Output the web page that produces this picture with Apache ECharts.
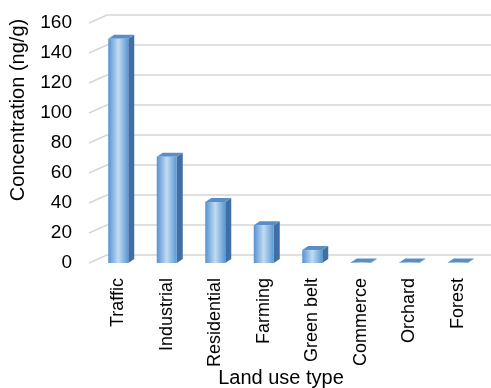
<!DOCTYPE html>
<html>
<head>
<meta charset="utf-8">
<script src="https://cdn.jsdelivr.net/npm/echarts@6/dist/echarts.min.js"></script>
<style>
    html, body { margin: 0; padding: 0; background: #fff; }
    #chart { width: 491px; height: 388px; }
</style>
</head>
<body>
<div id="chart"></div>
<script>
var landUse = ['Traffic', 'Industrial', 'Residential', 'Farming', 'Green belt', 'Commerce', 'Orchard', 'Forest'];
var concentration = [149.5, 70.8, 40.6, 25.2, 8.6, 0.4, 0.3, 0.3];
var yTicks = [0, 20, 40, 60, 80, 100, 120, 140, 160];

var chart = echarts.init(document.getElementById('chart'));

// 斜向的底面/侧墙线
var renderWallEdge = function (params, api) {
    var p = api.coord([0, api.value(0)]);
    return {
        type: 'line',
        shape: { x1: p[0] - 18, y1: p[1] + 8, x2: p[0], y2: p[1] },
        style: { stroke: '#d6d6d6', lineWidth: 1.5 }
    };
};

// 柱子的侧面和顶面
var renderBarBox = function (params, api) {
    var top = api.coord([api.value(0), api.value(1)]);
    var base = api.coord([api.value(0), 0]);
    var hw = 10, dx = 6, dy = -4;
    var x = top[0];
    return {
        type: 'group',
        children: [{
            type: 'polygon',
            shape: { points: [[x + hw, top[1]], [x + hw + dx, top[1] + dy], [x + hw + dx, base[1] + dy], [x + hw, base[1]]] },
            style: { fill: '#3f6fa3' }
        }, {
            type: 'polygon',
            shape: { points: [[x - hw, top[1]], [x + hw, top[1]], [x + hw + dx, top[1] + dy], [x - hw + dx, top[1] + dy]] },
            style: { fill: '#5a8fc6' }
        }]
    };
};

var option = {
    animation: false,
    textStyle: { fontFamily: 'Liberation Sans, Arial, sans-serif' },
    grid: [
        { left: 94, right: 9, top: 23, bottom: 125, outerBoundsMode: 'none', containLabel: false },
        { left: 107, right: 0, top: 15, bottom: 133, outerBoundsMode: 'none', containLabel: false }
    ],
    xAxis: [{
        type: 'category',
        gridIndex: 0,
        data: landUse,
        axisLine: { show: false },
        axisTick: { show: false },
        axisLabel: { rotate: 90, margin: 15, fontSize: 18, color: '#000', interval: 0, padding: [0, 0, 10, 0] },
        name: 'Land use type',
        nameLocation: 'middle',
        nameGap: 105,
        nameMoveOverlap: false,
        nameTextStyle: { fontSize: 20, color: '#000', padding: [0, 14, 0, 0] }
    }, {
        type: 'value',
        gridIndex: 1,
        min: 0, max: 1,
        show: false
    }],
    yAxis: [{
        type: 'value',
        gridIndex: 0,
        min: 0, max: 160, interval: 20,
        axisLine: { show: false },
        axisTick: { show: false },
        splitLine: { show: false },
        axisLabel: { fontSize: 19, color: '#000', margin: 22, padding: [8, 0, 0, 0] },
        name: 'Concentration (ng/g)',
        nameLocation: 'middle',
        nameGap: 66,
        nameMoveOverlap: false,
        nameTextStyle: { fontSize: 20, color: '#000', padding: [0, 0, 0, 66] }
    }, {
        type: 'value',
        gridIndex: 1,
        min: 0, max: 160, interval: 20,
        axisLine: { show: false },
        axisTick: { show: false },
        axisLabel: { show: false },
        splitLine: { lineStyle: { color: '#d6d6d6', width: 1.5 } }
    }],
    series: [{
        type: 'custom',
        xAxisIndex: 1,
        yAxisIndex: 1,
        renderItem: renderWallEdge,
        data: yTicks,
        z: 1
    }, {
        type: 'bar',
        xAxisIndex: 0,
        yAxisIndex: 0,
        data: concentration,
        barWidth: 20,
        z: 3,
        itemStyle: {
            color: new echarts.graphic.LinearGradient(0, 0, 1, 0, [
                { offset: 0, color: '#5592d2' },
                { offset: 0.5, color: '#c2dbf2' },
                { offset: 1, color: '#5a98d5' }
            ])
        }
    }, {
        type: 'custom',
        xAxisIndex: 0,
        yAxisIndex: 0,
        renderItem: renderBarBox,
        data: concentration.map(function (v, i) { return [i, v]; }),
        z: 2
    }]
};

chart.setOption(option);
</script>
</body>
</html>
